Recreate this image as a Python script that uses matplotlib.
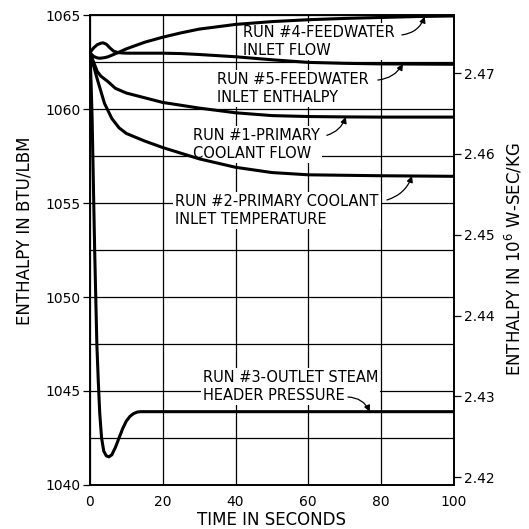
import matplotlib
matplotlib.use('Agg')
import matplotlib.pyplot as plt
from matplotlib.ticker import MultipleLocator

# run #4 - feedwater inlet flow
t4 = [0, 1, 2, 2.7, 4, 5, 6, 7.7, 10, 15, 20, 25, 30, 40, 50, 60, 70, 80, 90, 100]
h4 = [1063.0, 1062.8, 1062.72, 1062.7, 1062.73, 1062.78, 1062.86, 1063.0, 1063.2, 1063.55,
      1063.82, 1064.05, 1064.25, 1064.5, 1064.65, 1064.75, 1064.82, 1064.87, 1064.92, 1064.95]

# run #5 - feedwater inlet enthalpy
t5 = [0, 1, 2, 3, 3.6, 4.5, 5.5, 6.5, 7.7, 10, 15, 20, 25, 30, 40, 50, 60, 70, 80, 100]
h5 = [1063.0, 1063.25, 1063.42, 1063.5, 1063.52, 1063.45, 1063.25, 1063.08, 1063.0, 1062.97,
      1062.97, 1062.97, 1062.95, 1062.9, 1062.78, 1062.62, 1062.48, 1062.43, 1062.4, 1062.38]

# run #1 - primary coolant flow
t1 = [0, 1, 2, 3, 5, 7, 10, 15, 20, 30, 40, 50, 60, 70, 80, 100]
h1 = [1063.0, 1062.5, 1062.0, 1061.75, 1061.45, 1061.1, 1060.85, 1060.6, 1060.35, 1060.05,
      1059.8, 1059.65, 1059.6, 1059.58, 1059.57, 1059.57]

# run #2 - primary coolant inlet temperature
t2 = [0, 2, 4, 6, 8, 10, 15, 20, 30, 40, 50, 60, 80, 100]
h2 = [1063.0, 1061.6, 1060.3, 1059.5, 1059.0, 1058.7, 1058.3, 1057.95, 1057.35, 1056.9,
      1056.62, 1056.5, 1056.45, 1056.42]

# run #3 - outlet steam header pressure
t3 = [0, 0.3, 0.6, 1.0, 1.3, 1.6, 1.9, 2.3, 2.7, 3.2, 3.8, 4.5, 5.2, 6, 7, 8, 9, 10, 11, 12,
      13, 14, 16, 100]
h3 = [1063.0, 1061.5, 1059.5, 1055.5, 1052.5, 1050.0, 1047.5, 1045.5, 1043.8, 1042.5, 1041.8,
      1041.55, 1041.5, 1041.6, 1042.0, 1042.5, 1043.0, 1043.4, 1043.65, 1043.8, 1043.88,
      1043.9, 1043.9, 1043.9]

# labels: text, text position, arrow start, arrow end, curvature
labels = [
    ("RUN #4-FEEDWATER\nINLET FLOW", (42, 1063.6), (85.7, 1063.94), (92, 1064.92), 0.3),
    ("RUN #5-FEEDWATER\nINLET ENTHALPY", (35, 1061.1), (79.1, 1061.54), (86, 1062.4), 0.25),
    ("RUN #1-PRIMARY\nCOOLANT FLOW", (28.3, 1058.12), (65.1, 1058.6), (70.3, 1059.58), 0.25),
    ("RUN #2-PRIMARY COOLANT\nINLET TEMPERATURE", (23.4, 1054.62), (81.6, 1055.16), (88.5, 1056.44), 0.25),
    ("RUN #3-OUTLET STEAM\nHEADER PRESSURE", (31, 1045.25), (70.9, 1044.68), (76.9, 1043.9), -0.3),
]

BTU_TO_MJ = 0.002326

fig = plt.figure(figsize=(5.29, 5.29), dpi=100)
ax = fig.add_axes([0.170, 0.0832, 0.688, 0.8884])

for t, h in [(t4, h4), (t5, h5), (t1, h1), (t2, h2), (t3, h3)]:
    ax.plot(t, h, color='black', lw=2.2, solid_capstyle='round', zorder=4)

ax.set_xlim(0, 100)
ax.set_ylim(1040, 1065)
ax.set_xticks([0, 20, 40, 60, 80, 100])
ax.yaxis.set_major_locator(MultipleLocator(5))
ax.yaxis.set_minor_locator(MultipleLocator(2.5))
ax.grid(True, which='both', color='black', lw=0.9)
ax.tick_params(axis='x', length=0, pad=7, labelsize=10)
ax.tick_params(axis='y', which='major', direction='out', length=5, width=0.9, pad=2, labelsize=10)
ax.tick_params(axis='y', which='minor', length=0)
for s in ax.spines.values():
    s.set_linewidth(1.2)

for txt, pos, a, b, rad in labels:
    ax.text(pos[0], pos[1], txt, ha='left', va='center', fontsize=10.5, linespacing=1.25,
            zorder=3, bbox=dict(facecolor='white', edgecolor='none', pad=1.5))
    ax.annotate('', xy=b, xytext=a, zorder=5,
                arrowprops=dict(arrowstyle='-|>', color='black', lw=0.9, shrinkA=0, shrinkB=0,
                                mutation_scale=9, connectionstyle='arc3,rad=%s' % rad))

ax.set_xlabel("TIME IN SECONDS", fontsize=12, va='center')
ax.xaxis.set_label_coords(0.5, -0.074)
ax.set_ylabel("ENTHALPY IN BTU/LBM", fontsize=12, va='center')
ax.yaxis.set_label_coords(-0.179, 0.54)

ax2 = ax.twinx()
ax2.set_ylim(1040 * BTU_TO_MJ, 1065 * BTU_TO_MJ)
ax2.set_yticks([2.42, 2.43, 2.44, 2.45, 2.46, 2.47])
ax2.set_yticklabels(['2.42', '2.43', '2.44', '2.45', '2.46', '2.47'])
ax2.tick_params(axis='y', direction='out', length=5, width=0.9, pad=2, labelsize=10)
ax2.set_ylabel("ENTHALPY IN 10$^6$ W-SEC/KG", fontsize=12, va='center')
ax2.yaxis.set_label_coords(1.166, 0.48)
for s in ax2.spines.values():
    s.set_linewidth(1.2)

fig.savefig('out.png', dpi=100)
